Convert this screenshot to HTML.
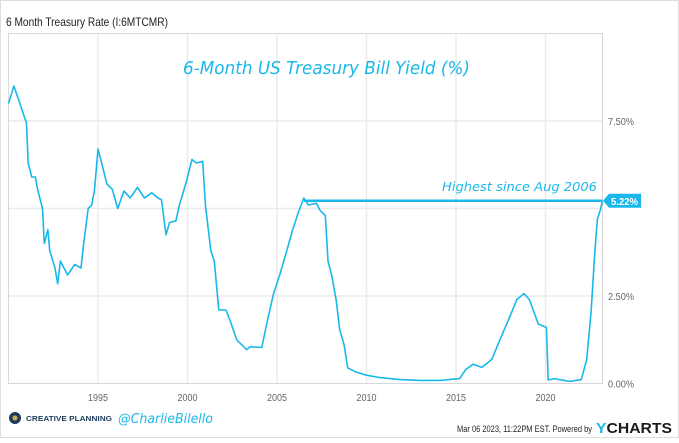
<!DOCTYPE html>
<html><head><meta charset="utf-8"><style>
body{margin:0;background:#fff;width:679px;height:438px;overflow:hidden;font-family:"Liberation Sans",sans-serif}
svg text{font-family:"Liberation Sans",sans-serif}
</style></head><body>
<svg id="c" width="679" height="438">
<rect x="0.5" y="0.5" width="678" height="437" fill="#fff" stroke="#ddd"/>
<text x="6" y="26" font-size="12" fill="#222" textLength="162" lengthAdjust="spacingAndGlyphs">6 Month Treasury Rate (I:6MTCMR)</text>
<g id="grid"></g>
<rect x="8.5" y="33.5" width="594" height="350" fill="none" stroke="#d8d8d8"/>
<text x="183" y="74" font-size="18" fill="#1ab8ea" font-style="italic" textLength="287" lengthAdjust="spacingAndGlyphs" style="font-family:'DejaVu Sans',sans-serif">6-Month US Treasury Bill Yield (%)</text>
<g id="marks"></g>
<text x="442" y="191" font-size="12" fill="#1ab8ea" font-style="italic" textLength="155" lengthAdjust="spacingAndGlyphs" style="font-family:'DejaVu Sans',sans-serif">Highest since Aug 2006</text>
<g>
<circle cx="15" cy="418" r="6" fill="#1d3d5c"/>
<circle cx="15" cy="418" r="2.5" fill="#d6a850"/>
<text x="26" y="421" font-size="7" font-weight="bold" fill="#1d3d5c" textLength="86" lengthAdjust="spacingAndGlyphs">CREATIVE PLANNING</text>
<text x="118" y="423" font-size="13" fill="#1ab8ea" font-style="italic" textLength="95" lengthAdjust="spacingAndGlyphs" style="font-family:'DejaVu Sans',sans-serif">@CharlieBilello</text>
<text x="457" y="432" font-size="9" fill="#222" textLength="135" lengthAdjust="spacingAndGlyphs">Mar 06 2023, 11:22PM EST.  Powered by</text>
<text x="596" y="433" font-size="15" font-weight="bold" fill="#1a1a1a" textLength="76" lengthAdjust="spacingAndGlyphs"><tspan fill="#1ab8ea">Y</tspan>CHARTS</text>
</g>
</svg>
<script>
const years=[1990.0,1990.3,1991.0,1991.1,1991.3,1991.5,1991.65,1991.9,1992.0,1992.2,1992.3,1992.6,1992.75,1992.9,1993.3,1993.7,1994.05,1994.2,1994.45,1994.65,1994.8,1995.0,1995.3,1995.5,1995.8,1996.1,1996.45,1996.8,1997.2,1997.6,1998.0,1998.35,1998.55,1998.8,1999.0,1999.35,1999.55,1999.9,2000.25,2000.5,2000.85,2001.0,2001.3,2001.5,2001.75,2002.15,2002.4,2002.75,2003.3,2003.5,2004.15,2004.45,2004.8,2005.15,2005.5,2005.85,2006.2,2006.5,2006.75,2007.2,2007.4,2007.7,2007.85,2008.05,2008.3,2008.5,2008.75,2008.95,2009.35,2009.9,2010.75,2011.9,2013.0,2014.1,2015.2,2015.55,2015.95,2016.45,2017.0,2017.45,2018.0,2018.4,2018.8,2019.1,2019.6,2020.05,2020.15,2020.5,2021.35,2022.0,2022.3,2022.55,2022.75,2022.9,2023.07,2023.18];
const rates=[8.0,8.5,7.45,6.3,5.9,5.9,5.5,5.0,4.0,4.4,3.8,3.3,2.85,3.5,3.1,3.4,3.3,4.0,5.0,5.1,5.5,6.7,6.1,5.7,5.55,5.0,5.5,5.3,5.6,5.3,5.45,5.3,5.25,4.25,4.6,4.65,5.1,5.7,6.4,6.3,6.35,5.1,3.8,3.5,2.1,2.1,1.77,1.25,0.97,1.05,1.03,1.77,2.55,3.1,3.7,4.35,4.9,5.3,5.1,5.15,4.95,4.8,3.5,3.1,2.4,1.55,1.1,0.45,0.34,0.25,0.17,0.11,0.09,0.09,0.14,0.4,0.55,0.46,0.69,1.25,1.9,2.4,2.57,2.4,1.7,1.6,0.1,0.14,0.06,0.11,0.69,2.05,3.7,4.7,4.97,5.22];
const yTicks=[0,2.5,5,7.5];
const yTickLabels=["0.00%","2.50%","5.00%","7.50%"];
const xTicks=[1995,2000,2005,2010,2015,2020];
const lastValue=5.22;
const lastLabel="5.22%";
const highlightStart=2006.5;
const NS="http://www.w3.org/2000/svg";
const X=y=>8.5+(y-1990)*17.9;
const Y=v=>383.5-v*35;
const g=document.getElementById('grid'),m=document.getElementById('marks'),svg=document.getElementById('c');
function mk(t,a,p){const e=document.createElementNS(NS,t);for(const k in a)e.setAttribute(k,a[k]);(p||svg).appendChild(e);return e;}
yTicks.forEach((v,i)=>{
 if(v>0){const l=mk('line',{x1:8.5,x2:602.5,y1:Y(v),y2:Y(v),stroke:'#ebebeb','stroke-width':1.5},g);
 
 }
 if(v===5)return;
 const t=mk('text',{x:608,y:Y(v)+4,'font-size':10,fill:'#666',textLength:26,lengthAdjust:'spacingAndGlyphs'},g);t.textContent=yTickLabels[i];
 
 
});
xTicks.forEach(yr=>{
 const l=mk('line',{x1:X(yr),x2:X(yr),y1:33.5,y2:383.5,stroke:'#ebebeb','stroke-width':1.5},g);
 
 
 const t=mk('text',{x:X(yr),y:401,'font-size':10,fill:'#666','text-anchor':'middle',textLength:20,lengthAdjust:'spacingAndGlyphs'},g);t.textContent=yr;
 
 
});
const p=mk('path',{d:years.map((y,i)=>(i?'L':'M')+X(y).toFixed(1)+','+Y(rates[i]).toFixed(1)).join(''),fill:'none',stroke:'#1ab8ea','stroke-width':1.6,'stroke-linejoin':'round'},m);


const h=mk('line',{x1:X(highlightStart),x2:X(years[years.length-1]),y1:Y(lastValue),y2:Y(lastValue),stroke:'#1ab8ea','stroke-width':2.5},m);


const yy=Y(lastValue);
const b=mk('path',{d:`M603,${yy} L609,${yy-7} L641,${yy-7} L641,${yy+7} L609,${yy+7} Z`,fill:'#1ab8ea'},m);


const bt=mk('text',{x:611,y:yy+4,'font-size':10,'font-weight':'bold',fill:'#fff',textLength:27,lengthAdjust:'spacingAndGlyphs'},m);bt.textContent=lastLabel;


</script>
</body></html>
